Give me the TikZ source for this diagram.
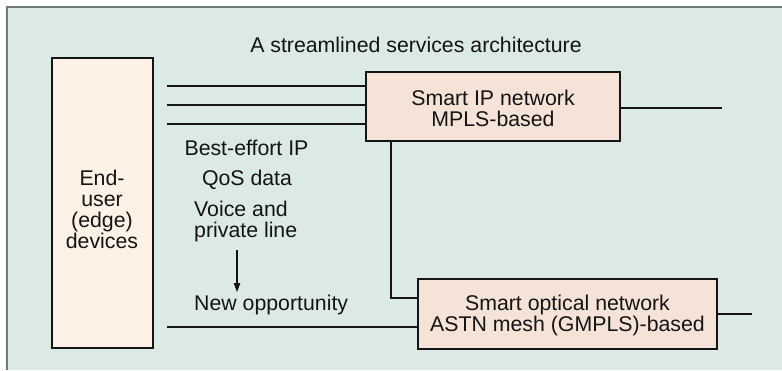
\documentclass[tikz,border=0pt]{standalone}
\usepackage{fontspec}
\setmainfont{Liberation Sans}
\usetikzlibrary{arrows.meta}
\definecolor{panel}{RGB}{219,234,228}
\definecolor{panelrule}{RGB}{112,122,120}
\definecolor{edgefill}{RGB}{254,241,230}
\definecolor{netfill}{RGB}{246,227,215}
\definecolor{ink}{RGB}{20,20,20}
\tikzset{
  lbl/.style={font=\fontsize{21.3}{21}\selectfont, text=ink, inner sep=0pt, align=center},
  netbox/.style={draw=ink, line width=1.2pt, fill=netfill, inner sep=0pt},
  edgebox/.style={draw=ink, line width=1.2pt, fill=edgefill, inner sep=0pt},
  wire/.style={draw=ink, line width=1.1pt},
}
\begin{document}
\begin{tikzpicture}[x=1pt, y=-1pt]
\useasboundingbox (0,0) rectangle (782,370);
% panel with rule on its left and top sides
\fill[panel] (7,7) rectangle (782,370);
\draw[panelrule, line width=1.6pt] (7,370) -- (7,7) -- (782,7);

\node[lbl] (title) at (416,45) {A streamlined services architecture};

% boxes
\node[edgebox, minimum width=101pt, minimum height=290pt] (edge) at (102.5,203) {};
\node[lbl] (edgetxt) at (102,209) {End-\\user\\(edge)\\devices};

\node[netbox, minimum width=254pt, minimum height=69pt] (ip) at (493,106.5) {};
\node[lbl] (iptxt) at (493,108) {Smart IP network\\MPLS-based};

\node[netbox, minimum width=299pt, minimum height=70pt] (opt) at (567.5,314) {};
\node[lbl] (opttxt) at (567.5,315) {Smart optical network\\ASTN mesh (GMPLS)-based};

% service labels
\node[lbl] (be) at (246.5,148) {Best-effort IP};
\node[lbl] (qos) at (247,180) {QoS data};
\node[lbl, align=left, anchor=west] (voice) at (194,221) {Voice and\\private line};
\node[lbl, anchor=west] (newop) at (194,305) {New opportunity};

% connector endpoints
\coordinate (a1) at (167,86);
\coordinate (a2) at (167,105);
\coordinate (a3) at (167,124);
\coordinate (ipout) at (722,108);
\coordinate (bend) at (391,298);
\coordinate (optout) at (752,314);
\coordinate (newin) at (167,327);
\coordinate (arrtop) at (237,250);
\coordinate (arrbot) at (237,292);

\draw[wire] (a1) -- (a1 -| ip.west);
\draw[wire] (a2) -- (a2 -| ip.west);
\draw[wire] (a3) -- (a3 -| ip.west);
\draw[wire] (ip.east |- ipout) -- (ipout);
\draw[wire] (bend |- ip.south) -- (bend) -- (bend -| opt.west);
\draw[wire] (newin) -- (newin -| opt.west);
\draw[wire] (opt.east |- optout) -- (optout);
\draw[wire, -{Triangle[length=9pt, width=6.5pt]}] (arrtop) -- (arrbot);
\end{tikzpicture}
\end{document}
